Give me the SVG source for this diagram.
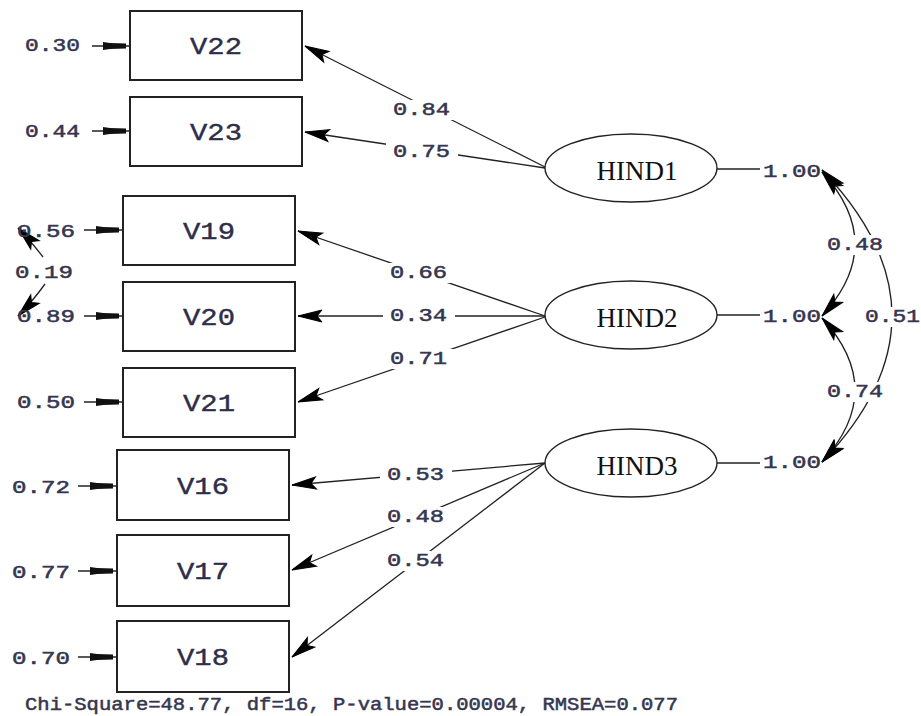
<svg xmlns="http://www.w3.org/2000/svg" width="921" height="716" viewBox="0 0 921 716">
<style>
.box{fill:#fff;stroke:#222;stroke-width:2}
.ell{fill:#fff;stroke:#222;stroke-width:1.4}
.ln{fill:none;stroke:#222;stroke-width:1.3}
.bg{fill:#fff}
.num{font-family:"Liberation Mono","DejaVu Sans Mono",monospace;font-size:18px;fill:#36364f;stroke:#36364f;stroke-width:0.5}
.vl{font-family:"Liberation Mono","DejaVu Sans Mono",monospace;font-size:24px;fill:#2e2e48;stroke:#2e2e48;stroke-width:0.4}
.hl{font-family:"Liberation Serif","Times New Roman",serif;font-size:27px;fill:#111}
</style>
<defs>
<marker id="ah" markerUnits="userSpaceOnUse" viewBox="-30 -8 32 16" markerWidth="32" markerHeight="16" refX="0" refY="0" orient="auto-start-reverse" overflow="visible">
<path d="M0,0 L-24,-6 L-19,0 L-24,6 Z" fill="#000" stroke="#000" stroke-width="1" stroke-linejoin="miter"/>
<path d="M-2,0 L-16,-3.5 L-16,3.5 Z" fill="#000"/>
</marker>
<marker id="eh" markerUnits="userSpaceOnUse" viewBox="-30 -6 32 12" markerWidth="32" markerHeight="12" refX="0" refY="0" orient="auto" overflow="visible">
<path d="M-4,-2.5 L-20,-3 L-27,-4 L-27,4 L-20,3 L-4,2.5 Z" fill="#111"/>
</marker>
</defs>
<rect width="921" height="716" fill="#fff"/>
<g id="connectors">
<line class="ln" x1="92" y1="46" x2="130" y2="46" marker-end="url(#eh)"/>
<line class="ln" x1="92" y1="131" x2="130" y2="131" marker-end="url(#eh)"/>
<line class="ln" x1="84" y1="230" x2="123" y2="230" marker-end="url(#eh)"/>
<line class="ln" x1="84" y1="316" x2="123" y2="316" marker-end="url(#eh)"/>
<line class="ln" x1="84" y1="402" x2="123" y2="402" marker-end="url(#eh)"/>
<line class="ln" x1="78" y1="486" x2="117" y2="486" marker-end="url(#eh)"/>
<line class="ln" x1="78" y1="571" x2="117" y2="571" marker-end="url(#eh)"/>
<line class="ln" x1="78" y1="657" x2="117" y2="657" marker-end="url(#eh)"/>
<line class="ln" x1="545" y1="167" x2="305" y2="46" marker-end="url(#ah)"/>
<line class="ln" x1="545" y1="168" x2="305" y2="132" marker-end="url(#ah)"/>
<line class="ln" x1="545" y1="316" x2="298" y2="231" marker-end="url(#ah)"/>
<line class="ln" x1="545" y1="316" x2="298" y2="316" marker-end="url(#ah)"/>
<line class="ln" x1="545" y1="317" x2="298" y2="402" marker-end="url(#ah)"/>
<line class="ln" x1="545" y1="463" x2="292" y2="485" marker-end="url(#ah)"/>
<line class="ln" x1="545" y1="463" x2="292" y2="570" marker-end="url(#ah)"/>
<line class="ln" x1="545" y1="463" x2="292" y2="657" marker-end="url(#ah)"/>
<line class="ln" x1="717" y1="169" x2="760" y2="169"/>
<line class="ln" x1="717" y1="315" x2="760" y2="315"/>
<line class="ln" x1="717" y1="463" x2="760" y2="463"/>
<path class="ln" d="M822,172 Q888,244 822,316" marker-start="url(#ah)" marker-end="url(#ah)"/>
<path class="ln" d="M822,318 Q888,390 822,462" marker-start="url(#ah)" marker-end="url(#ah)"/>
<path class="ln" d="M822,170 Q962,316 822,462" marker-start="url(#ah)" marker-end="url(#ah)"/>
<path class="ln" d="M43,257 Q30,240 18,228" marker-end="url(#ah)"/>
<path class="ln" d="M45,284 Q32,302 18,316" marker-end="url(#ah)"/>
<rect class="bg" x="386" y="100" width="72" height="20"/>
<rect class="bg" x="386" y="142" width="72" height="20"/>
<rect class="bg" x="383" y="263" width="72" height="20"/>
<rect class="bg" x="383" y="306" width="72" height="20"/>
<rect class="bg" x="383" y="349" width="72" height="20"/>
<rect class="bg" x="380" y="465" width="72" height="20"/>
<rect class="bg" x="380" y="507" width="72" height="20"/>
<rect class="bg" x="380" y="551" width="72" height="20"/>
<rect class="bg" x="822" y="235" width="66" height="20"/>
<rect class="bg" x="860" y="307" width="61" height="20"/>
<rect class="bg" x="822" y="382" width="66" height="20"/>
<rect class="bg" x="10" y="263" width="66" height="20"/>
<text class="num" x="393" y="115" textLength="57" lengthAdjust="spacingAndGlyphs">0.84</text>
<text class="num" x="393" y="157" textLength="57" lengthAdjust="spacingAndGlyphs">0.75</text>
<text class="num" x="390" y="278" textLength="57" lengthAdjust="spacingAndGlyphs">0.66</text>
<text class="num" x="390" y="321" textLength="57" lengthAdjust="spacingAndGlyphs">0.34</text>
<text class="num" x="390" y="364" textLength="57" lengthAdjust="spacingAndGlyphs">0.71</text>
<text class="num" x="387" y="480" textLength="57" lengthAdjust="spacingAndGlyphs">0.53</text>
<text class="num" x="387" y="522" textLength="57" lengthAdjust="spacingAndGlyphs">0.48</text>
<text class="num" x="387" y="566" textLength="57" lengthAdjust="spacingAndGlyphs">0.54</text>
<text class="num" x="827" y="250" textLength="56" lengthAdjust="spacingAndGlyphs">0.48</text>
<text class="num" x="865" y="322" textLength="55" lengthAdjust="spacingAndGlyphs">0.51</text>
<text class="num" x="827" y="397" textLength="56" lengthAdjust="spacingAndGlyphs">0.74</text>
<text class="num" x="763" y="177" textLength="58" lengthAdjust="spacingAndGlyphs">1.00</text>
<text class="num" x="763" y="322" textLength="58" lengthAdjust="spacingAndGlyphs">1.00</text>
<text class="num" x="763" y="468" textLength="58" lengthAdjust="spacingAndGlyphs">1.00</text>
<text class="num" x="25" y="51" textLength="55" lengthAdjust="spacingAndGlyphs">0.30</text>
<text class="num" x="25" y="137" textLength="55" lengthAdjust="spacingAndGlyphs">0.44</text>
<text class="num" x="17" y="237" textLength="58" lengthAdjust="spacingAndGlyphs">0.56</text>
<text class="num" x="15" y="278" textLength="58" lengthAdjust="spacingAndGlyphs">0.19</text>
<text class="num" x="17" y="322" textLength="58" lengthAdjust="spacingAndGlyphs">0.89</text>
<text class="num" x="17" y="408" textLength="58" lengthAdjust="spacingAndGlyphs">0.50</text>
<text class="num" x="12" y="493" textLength="58" lengthAdjust="spacingAndGlyphs">0.72</text>
<text class="num" x="12" y="578" textLength="58" lengthAdjust="spacingAndGlyphs">0.77</text>
<text class="num" x="12" y="664" textLength="58" lengthAdjust="spacingAndGlyphs">0.70</text>
</g>
<g id="V22"><rect class="box" x="130" y="11" width="172" height="69"/><text class="vl" x="190" y="54" textLength="52" lengthAdjust="spacingAndGlyphs">V22</text></g>
<g id="V23"><rect class="box" x="130" y="97" width="172" height="69"/><text class="vl" x="190" y="140" textLength="52" lengthAdjust="spacingAndGlyphs">V23</text></g>
<g id="V19"><rect class="box" x="123" y="196" width="172" height="69"/><text class="vl" x="183" y="239" textLength="52" lengthAdjust="spacingAndGlyphs">V19</text></g>
<g id="V20"><rect class="box" x="123" y="282" width="172" height="69"/><text class="vl" x="183" y="325" textLength="52" lengthAdjust="spacingAndGlyphs">V20</text></g>
<g id="V21"><rect class="box" x="123" y="368" width="172" height="69"/><text class="vl" x="183" y="411" textLength="52" lengthAdjust="spacingAndGlyphs">V21</text></g>
<g id="V16"><rect class="box" x="117" y="450" width="172" height="70"/><text class="vl" x="177" y="494" textLength="52" lengthAdjust="spacingAndGlyphs">V16</text></g>
<g id="V17"><rect class="box" x="117" y="535" width="172" height="71"/><text class="vl" x="177" y="579" textLength="52" lengthAdjust="spacingAndGlyphs">V17</text></g>
<g id="V18"><rect class="box" x="117" y="621" width="172" height="71"/><text class="vl" x="177" y="665" textLength="52" lengthAdjust="spacingAndGlyphs">V18</text></g>
<g id="HIND1"><ellipse class="ell" cx="631" cy="168" rx="86" ry="34"/><text class="hl" x="637" y="180" text-anchor="middle">HIND1</text></g>
<g id="HIND2"><ellipse class="ell" cx="631" cy="315" rx="86" ry="34"/><text class="hl" x="637" y="327" text-anchor="middle">HIND2</text></g>
<g id="HIND3"><ellipse class="ell" cx="631" cy="463" rx="86" ry="34"/><text class="hl" x="637" y="475" text-anchor="middle">HIND3</text></g>
<text class="num" x="25" y="710" textLength="653" lengthAdjust="spacingAndGlyphs">Chi-Square=48.77, df=16, P-value=0.00004, RMSEA=0.077</text>
</svg>
